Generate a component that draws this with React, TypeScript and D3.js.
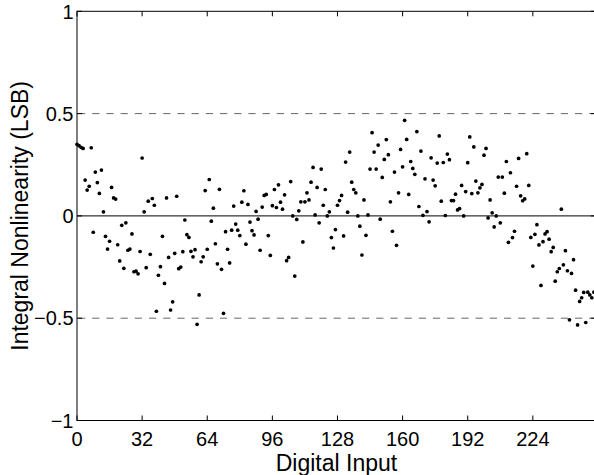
import React from "react";
import * as d3 from "d3";

const inlValues: number[] = [
  0.35, 0.343, 0.335, 0.33, 0.175, 0.126, 0.145, 0.333, -0.08, 0.214,
  0.163, 0.11, 0.224, 0.02, -0.1, -0.162, -0.124, 0.139, 0.088, 0.082,
  -0.141, -0.22, -0.046, -0.256, -0.034, -0.168, -0.162, -0.088, -0.273, -0.27,
  -0.283, -0.174, 0.283, 0.02, -0.253, 0.072, -0.188, 0.085, 0.052, -0.466,
  -0.29, -0.248, -0.1, -0.33, 0.088, -0.203, -0.46, -0.42, -0.183, 0.096,
  -0.258, -0.25, -0.175, -0.02, -0.092, -0.105, -0.173, -0.2, -0.165, -0.53,
  -0.386, -0.224, -0.2, 0.124, -0.163, 0.178, -0.026, 0.038, -0.136, -0.234,
  0.13, -0.261, -0.476, -0.077, -0.163, -0.23, -0.07, 0.048, -0.04, -0.07,
  -0.096, 0.067, 0.123, -0.138, 0.056, -0.03, -0.072, -0.093, 0.022, -0.016,
  -0.168, 0.043, 0.1, 0.105, -0.096, -0.193, 0.05, 0.129, 0.041, 0.152,
  0.067, 0.033, 0.103, -0.219, -0.203, 0.168, 0.0, -0.294, -0.017, 0.025,
  0.069, -0.127, 0.069, 0.113, 0.078, 0.165, 0.237, 0.005, 0.139, -0.034,
  0.229, 0.052, 0.129, 0.0, 0.02, -0.106, -0.157, -0.067, 0.052, 0.075,
  0.1, -0.098, 0.263, 0.018, 0.312, 0.165, 0.129, 0.113, 0.0, -0.05,
  -0.191, 0.078, -0.095, 0.005, 0.229, 0.407, 0.312, 0.229, 0.346, -0.016,
  0.188, 0.276, 0.373, 0.299, 0.069, -0.075, 0.214, -0.144, 0.113, 0.325,
  0.24, 0.467, 0.374, 0.105, 0.266, 0.232, 0.203, 0.412, 0.046, 0.317,
  0.003, 0.181, 0.021, -0.029, 0.284, 0.175, 0.147, 0.258, 0.391, 0.072,
  0.261, 0.002, 0.302, 0.275, 0.075, 0.075, 0.106, 0.029, 0.036, 0.149,
  0.0, 0.119, 0.26, 0.386, 0.109, 0.337, 0.17, 0.113, 0.137, 0.154,
  0.297, 0.33, -0.01, 0.078, 0.015, -0.054, 0.0, 0.19, -0.034, 0.19,
  0.111, 0.266, -0.129, 0.211, -0.106, -0.075, 0.145, 0.281, 0.098, 0.074,
  0.083, 0.304, 0.149, -0.105, -0.245, -0.09, -0.043, -0.142, -0.34, -0.126,
  -0.088, -0.077, -0.114, -0.175, -0.154, -0.319, -0.273, -0.257, 0.033, -0.239,
  -0.17, -0.268, -0.508, -0.281, -0.214, -0.363, -0.533, -0.418, -0.4, -0.374,
  -0.521, -0.373, -0.386, -0.4, -0.373, -0.38,
];

const xTicks: number[] = [0, 32, 64, 96, 128, 160, 192, 224];
const yTicks: number[] = [-1, -0.5, 0, 0.5, 1];
const yTickLabels: string[] = ["\u22121", "\u22120.5", "0", "0.5", "1"];
const refLines: number[] = [-0.5, 0.5];
const xLabel = "Digital Input";
const yLabel = "Integral Nonlinearity (LSB)";

const W = 594;
const H = 475;
const FONT = "'Liberation Sans', Arial, Helvetica, sans-serif";

export default function App() {
  const left = 77;
  const right = 77 + 255 * 2.035;
  const top = 11.3;
  const bottom = 420.5;
  const x = d3.scaleLinear().domain([0, 255]).range([left, right]);
  const y = d3.scaleLinear().domain([-1, 1]).range([bottom, top]);
  const tickLen = 5;

  return (
    <svg
      width={W}
      height={H}
      style={{ position: "absolute", left: 0, top: 0, background: "#fff" }}
      fontFamily={FONT}
    >
      <rect x={0} y={0} width={W} height={H} fill="#fff" />
      {refLines.map((v) => (
        <line
          key={"r" + v}
          x1={left + 1}
          x2={right}
          y1={y(v)}
          y2={y(v)}
          stroke="#666"
          strokeWidth={1}
          strokeDasharray="7.2,7"
        />
      ))}
      <line x1={left} x2={right} y1={y(0)} y2={y(0)} stroke="#000" strokeWidth={1} />
      {inlValues.map((v, i) => (
        <circle key={i} cx={x(i)} cy={y(v)} r={1.85} fill="#000" />
      ))}
      <rect
        x={left}
        y={top}
        width={right - left}
        height={bottom - top}
        fill="none"
        stroke="#000"
        strokeWidth={1}
      />
      {xTicks.map((t) => (
        <g key={"x" + t}>
          <line x1={x(t)} x2={x(t)} y1={bottom} y2={bottom - tickLen} stroke="#000" />
          <line x1={x(t)} x2={x(t)} y1={top} y2={top + tickLen} stroke="#000" />
          <text x={x(t)} y={bottom + 25} fontSize={20} textAnchor="middle" fill="#000">
            {String(t)}
          </text>
        </g>
      ))}
      {yTicks.map((t, i) => (
        <g key={"y" + t}>
          <line x1={left} x2={left + tickLen} y1={y(t)} y2={y(t)} stroke="#000" />
          <line x1={right} x2={right - tickLen} y1={y(t)} y2={y(t)} stroke="#000" />
          <text
            x={left - 3.5}
            y={y(t) + 7.2}
            fontSize={20}
            textAnchor="end"
            fill="#000"
          >
            {yTickLabels[i]}
          </text>
        </g>
      ))}
      <text x={(left + right) / 2} y={471} fontSize={23} textAnchor="middle" fill="#000">
        {xLabel}
      </text>
      <text
        transform={`translate(28, ${y(0)}) rotate(-90)`}
        fontSize={23}
        textAnchor="middle"
        fill="#000"
      >
        {yLabel}
      </text>
    </svg>
  );
}
